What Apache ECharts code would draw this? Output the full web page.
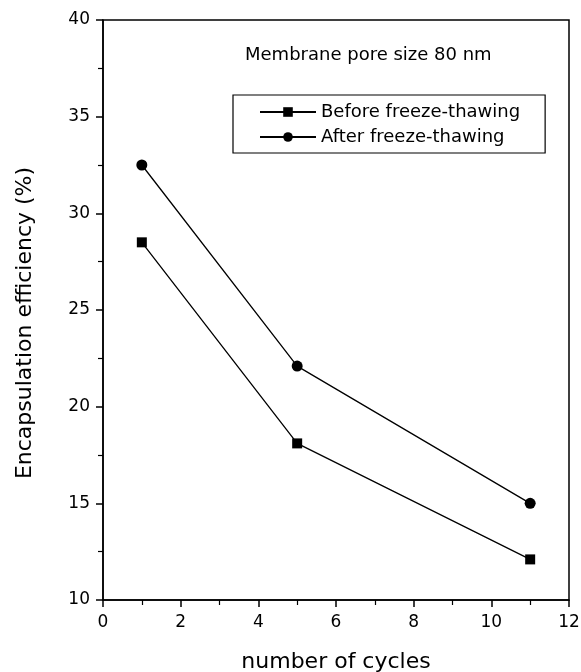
<!DOCTYPE html>
<html>
<head>
<meta charset="utf-8">
<script src="https://cdn.jsdelivr.net/npm/echarts@6/dist/echarts.min.js"></script>
<style>
  html, body { margin: 0; padding: 0; background: #fff; }
  #chart { width: 581px; height: 672px; }
</style>
</head>
<body>
<div id="chart"></div>
<script>
// data
const cycles = [1, 5, 11];
const beforeFT = [28.5, 18.1, 12.1];
const afterFT = [32.5, 22.1, 15.0];
const seriesNames = ['Before freeze-thawing', 'After freeze-thawing'];
const note = 'Membrane pore size 80 nm';

const font = 'DejaVu Sans, Liberation Sans, sans-serif';
const chart = echarts.init(document.getElementById('chart'), null, { renderer: 'canvas' });

const pairs = (xs, ys) => xs.map((x, i) => [x, ys[i]]);

const option = {
  backgroundColor: '#fff',
  animation: false,
  grid: {
    left: 103, right: 12, top: 20, bottom: 72,
    outerBoundsMode: 'none',
    show: true, borderColor: '#000', borderWidth: 1.5
  },
  legend: {
    orient: 'vertical',
    left: 233, top: 95,
    itemWidth: 56, itemHeight: 12, itemGap: 7,
    padding: [8, 25, 7, 26],
    borderColor: '#000', borderWidth: 1.2,
    textStyle: { fontFamily: font, fontSize: 18, color: '#000' },
    data: seriesNames
  },
  graphic: [{
    type: 'text', left: 245, top: 46,
    style: { text: note, fontFamily: font, fontSize: 18, fill: '#000' }
  }],
  xAxis: {
    type: 'value', min: 0, max: 12, interval: 2,
    name: 'number of cycles', nameLocation: 'middle', nameGap: 51,
    nameTextStyle: { fontFamily: font, fontSize: 22, color: '#000' },
    axisLine: { lineStyle: { color: '#000', width: 1.5 } },
    axisTick: { inside: false, length: 7, lineStyle: { color: '#000', width: 1.5 } },
    minorTick: { show: true, splitNumber: 2, length: 5, lineStyle: { color: '#000', width: 1.2 } },
    axisLabel: { fontFamily: font, fontSize: 17, color: '#000', margin: 14 },
    splitLine: { show: false }
  },
  yAxis: {
    type: 'value', min: 10, max: 40, interval: 5,
    name: 'Encapsulation efficiency (%)', nameLocation: 'middle', nameGap: 67, nameRotate: 90,
    nameTextStyle: { fontFamily: font, fontSize: 22, color: '#000', padding: [0, 26, 0, 0] },
    axisLine: { lineStyle: { color: '#000', width: 1.5 } },
    axisTick: { inside: false, length: 7, lineStyle: { color: '#000', width: 1.5 } },
    minorTick: { show: true, splitNumber: 2, length: 5, lineStyle: { color: '#000', width: 1.2 } },
    axisLabel: { fontFamily: font, fontSize: 17, color: '#000', margin: 13 },
    splitLine: { show: false }
  },
  series: [
    {
      name: seriesNames[0], type: 'line',
      data: pairs(cycles, beforeFT),
      symbol: 'rect', symbolSize: 10,
      itemStyle: { color: '#000' },
      lineStyle: { color: '#000', width: 1.3 }
    },
    {
      name: seriesNames[1], type: 'line',
      data: pairs(cycles, afterFT),
      symbol: 'circle', symbolSize: 11,
      itemStyle: { color: '#000' },
      lineStyle: { color: '#000', width: 1.3 }
    }
  ]
};

chart.setOption(option);
</script>
</body>
</html>
